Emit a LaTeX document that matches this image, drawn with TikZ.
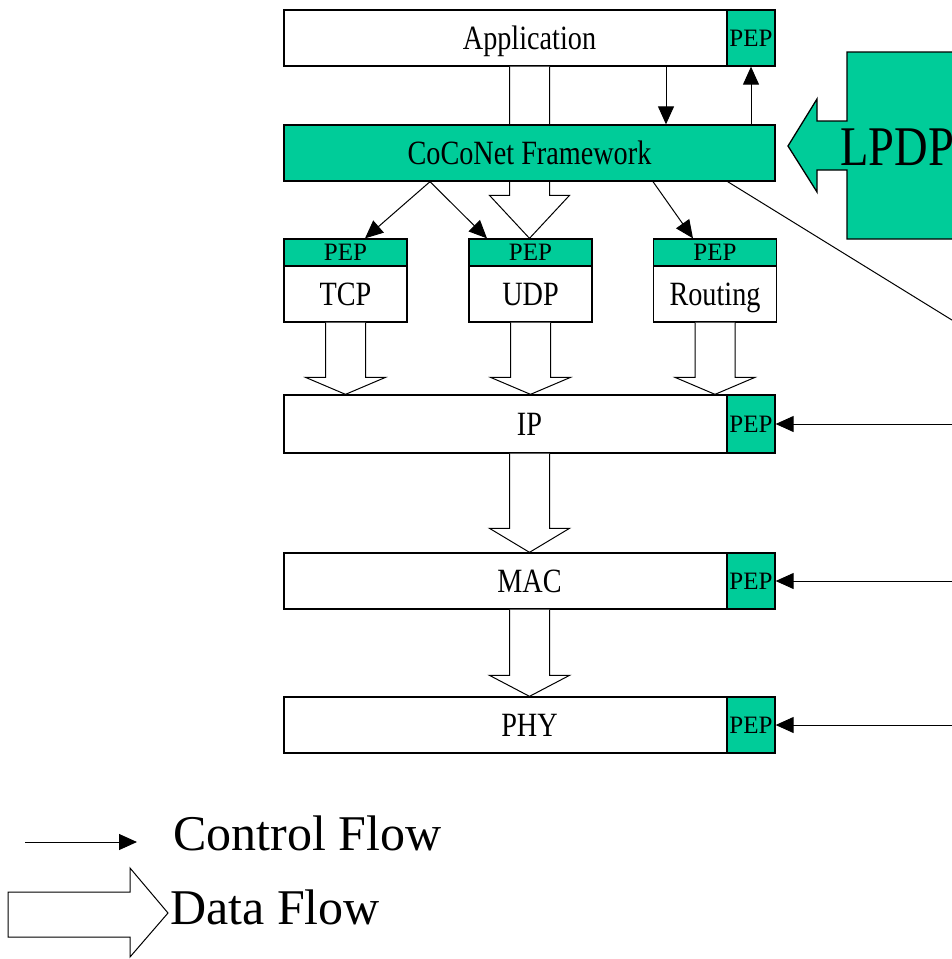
\documentclass[tikz,border=0pt]{standalone}
\usepackage{fontspec}
\setmainfont{Liberation Serif}
\newfontfamily\narrowfont[FakeStretch=0.83]{Liberation Serif}
\usetikzlibrary{arrows.meta,calc}
\definecolor{pepgreen}{RGB}{0,204,153}

% block arrow for data flow: from #1.south down to #2.north, head length #3
\newcommand{\dataflow}[3]{%
  \draw[data] let \p1=(#1.south), \p2=(#2.north) in
    (\x1-20pt,\y1) -- (\x1-20pt,\y2+#3) -- (\x1-40pt,\y2+#3) -- (\x1,\y2)
    -- (\x1+40pt,\y2+#3) -- (\x1+20pt,\y2+#3) -- (\x1+20pt,\y1);}

\begin{document}
\begin{tikzpicture}[x=1pt, y=-1pt,
    layer/.style={draw, line width=1.3pt, inner sep=0pt, minimum height=56pt,
      text height=22pt, text depth=0pt,
      font=\narrowfont\fontsize{34}{34}\selectfont},
    pep/.style={layer, fill=pepgreen, minimum width=48pt,
      text height=16pt, font=\fontsize{25}{25}\selectfont},
    ctrl/.style={line width=1pt, -{Triangle[length=18pt,width=16pt]}},
    data/.style={draw, line width=1pt, fill=white}]
  \clip (0,0) rectangle (952,959);

  % stack
  \node[layer, minimum width=491pt] (app) at (529.5,38) {Application};
  \node[pep] (apppep) at (751,38) {PEP};

  \node[pep, minimum width=123pt, minimum height=27pt] (tcppep) at (345.5,252.5) {PEP};
  \node[layer, minimum width=123pt] (tcp) at (345.5,294) {TCP};
  \node[pep, minimum width=123pt, minimum height=27pt] (udppep) at (530.5,252.5) {PEP};
  \node[layer, minimum width=123pt] (udp) at (530.5,294) {UDP};
  \node[pep, minimum width=123pt, minimum height=27pt] (rtpep) at (715,252.5) {PEP};
  \node[layer, minimum width=123pt] (rt) at (715,294) {Routing};

  \node[layer, minimum width=491pt, minimum height=58pt] (ip) at (529.5,424) {IP};
  \node[pep, minimum height=58pt] (ippep) at (751,424) {PEP};
  \node[layer, minimum width=491pt] (mac) at (529.5,581) {MAC};
  \node[pep] (macpep) at (751,581) {PEP};
  \node[layer, minimum width=491pt] (phy) at (529.5,725) {PHY};
  \node[pep] (phypep) at (751,725) {PEP};

  % data flow
  \dataflow{app}{udppep}{43}
  \node[layer, fill=pepgreen, minimum width=491pt] (coco) at (529.5,153) {CoCoNet Framework};
  \dataflow{tcp}{ip}{17}
  \dataflow{udp}{ip}{17}
  \dataflow{rt}{ip}{17}
  \dataflow{ip}{mac}{24}
  \dataflow{mac}{phy}{21}

  % control flow
  \draw[ctrl] ([xshift=136.5pt]app.south) -- ([xshift=136.5pt]coco.north);
  \draw[ctrl] (coco.north -| apppep.south) -- (apppep.south);
  \coordinate (c1) at ([xshift=-99.5pt]coco.south);
  \coordinate (c2) at ([xshift=123.5pt]coco.south);
  \draw[ctrl] (c1) -- ([xshift=19.5pt]tcppep.north);
  \draw[ctrl] (c1) -- ([xshift=-43.5pt]udppep.north);
  \draw[ctrl] (c2) -- ([xshift=-22pt]rtpep.north);

  \coordinate (bus) at (960,325);
  \draw[line width=1pt] ([xshift=-48pt]coco.south east) -- (bus);
  \coordinate (b1) at (960,424);
  \coordinate (b2) at (960,581);
  \coordinate (b3) at (960,725);
  \draw[ctrl] (b1) -- (ippep.east);
  \draw[ctrl] (b2) -- (macpep.east);
  \draw[ctrl] (b3) -- (phypep.east);

  % LPDP
  \draw[line width=1.3pt, fill=pepgreen] (970,52) -- (847,52) -- (847,121) -- (817,121)
    -- (817,99) -- (788,146) -- (817,192) -- (817,170) -- (847,170) -- (847,239)
    -- (970,239) -- cycle;
  \node[anchor=base west, inner sep=0pt, font=\narrowfont\fontsize{56}{56}\selectfont]
    (lpdp) at (840,165) {LPDP};

  % legend
  \coordinate (cfa) at (25,842);
  \coordinate (cfb) at (137,842);
  \draw[ctrl] (cfa) -- (cfb);
  \node[anchor=base west, inner sep=0pt, font=\fontsize{50}{50}\selectfont]
    (cflbl) at (173,850) {Control Flow};
  \draw[data] (8,892) -- (130,892) -- (130,868) -- (168,913) -- (130,957)
    -- (130,937) -- (8,937) -- cycle;
  \node[anchor=base west, inner sep=0pt, font=\fontsize{50}{50}\selectfont]
    (dflbl) at (170,924) {Data Flow};
\end{tikzpicture}
\end{document}
